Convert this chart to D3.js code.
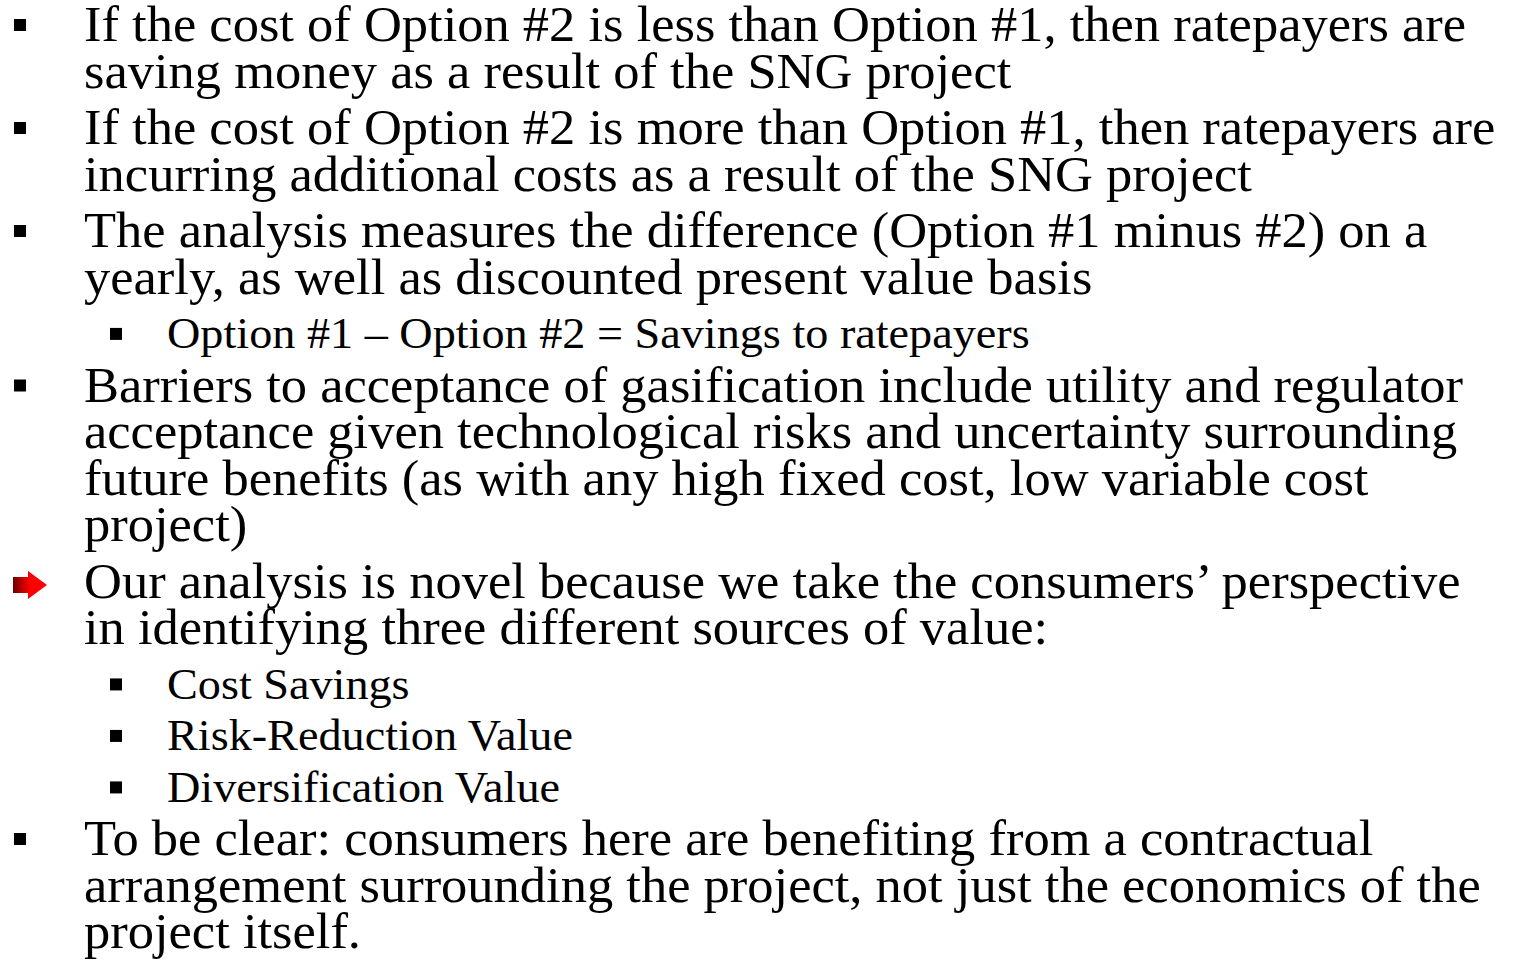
<!DOCTYPE html>
<html>
<head>
<meta charset="utf-8">
<script src="https://cdn.jsdelivr.net/npm/d3@7"></script>
<style>
  html, body { margin: 0; padding: 0; background: #fff; }
  svg { display: block; }
</style>
</head>
<body>
<script>
// slide text, one array entry per paragraph (lines as broken on the slide)
var paraLines = [
  ["If the cost of Option #2 is less than Option #1, then ratepayers are",
   "saving money as a result of the SNG project"],
  ["If the cost of Option #2 is more than Option #1, then ratepayers are",
   "incurring additional costs as a result of the SNG project"],
  ["The analysis measures the difference (Option #1 minus #2) on a",
   "yearly, as well as discounted present value basis"],
  ["Option #1 \u2013 Option #2 = Savings to ratepayers"],
  ["Barriers to acceptance of gasification include utility and regulator",
   "acceptance given technological risks and uncertainty surrounding",
   "future benefits (as with any high fixed cost, low variable cost",
   "project)"],
  ["Our analysis is novel because we take the consumers\u2019 perspective",
   "in identifying three different sources of value:"],
  ["Cost Savings"],
  ["Risk-Reduction Value"],
  ["Diversification Value"],
  ["To be clear: consumers here are benefiting from a contractual",
   "arrangement surrounding the project, not just the economics of the",
   "project itself."]
];
var paraLevel  = [1, 1, 1, 2, 1, 1, 2, 2, 2, 1];
var paraBullet = ["square", "square", "square", "square", "square", "arrow",
                  "square", "square", "square", "square"];

var W = 1518, H = 960;
var stretch = 1.05;   // horizontal fit of the serif face (palatino is wider)

var fontSize = d3.scaleOrdinal().domain([1, 2]).range([50, 44]);
var lineStep = d3.scaleOrdinal().domain([1, 2]).range([46.5, 40.5]);
var paraGap  = d3.scaleOrdinal().domain([1, 2]).range([10, 11]);
var textX    = d3.scaleOrdinal().domain([1, 2]).range([84, 167]);
var bulletX  = d3.scaleOrdinal().domain([1, 2]).range([14, 110]);

// lay out the lines top to bottom
var lines = [], y = 41, prev = null;
paraLines.forEach(function(p, pi){
  var lv = paraLevel[pi];
  p.forEach(function(t, li){
    if (prev !== null) {
      if (li > 0) y += lineStep(lv);
      else y += (lineStep(prev) + lineStep(lv)) / 2 + paraGap(lv);
    }
    lines.push({text: t, level: lv, y: y, first: li === 0, bullet: paraBullet[pi]});
    prev = lv;
  });
});

var svg = d3.select("body").append("svg").attr("width", W).attr("height", H);

var defs = svg.append("defs");
var grad = defs.append("linearGradient").attr("id", "arrowGrad")
  .attr("x1", "0%").attr("x2", "100%").attr("y1", "0%").attr("y2", "0%");
grad.append("stop").attr("offset", "0%").attr("stop-color", "#6e0000");
grad.append("stop").attr("offset", "50%").attr("stop-color", "#ff0000");
grad.append("stop").attr("offset", "100%").attr("stop-color", "#ff0000");

var txt = svg.selectAll("text.line").data(lines).enter().append("text")
  .attr("class", "line")
  .attr("x", function(d){ return textX(d.level); })
  .attr("y", function(d){ return d.y; })
  .attr("font-family", "'Liberation Serif', 'Times New Roman', serif")
  .attr("font-size", function(d){ return fontSize(d.level); })
  .attr("fill", "#000")
  .text(function(d){ return d.text; });

txt.each(function(){
  var w = this.getComputedTextLength();
  d3.select(this).attr("textLength", w * stretch).attr("lengthAdjust", "spacingAndGlyphs");
});

var firsts = lines.filter(function(d){ return d.first; });

svg.selectAll("rect.bullet").data(firsts.filter(function(d){ return d.bullet === "square"; }))
  .enter().append("rect")
  .attr("class", "bullet")
  .attr("x", function(d){ return bulletX(d.level); })
  .attr("y", function(d){ return d.y - 0.32 * fontSize(d.level) - 6; })
  .attr("width", 12).attr("height", 12)
  .attr("fill", "#000");

var arrows = svg.selectAll("g.arrow").data(firsts.filter(function(d){ return d.bullet === "arrow"; }))
  .enter().append("g").attr("class", "arrow")
  .attr("transform", function(d){ return "translate(" + bulletX(d.level) + "," + (d.y - 12.5) + ")"; });
arrows.append("path")
  .attr("d", "M-1,-8 L14,-8 L14,-14 L33,0 L14,14 L14,8 L-1,8 Z")
  .attr("fill", "url(#arrowGrad)");
</script>
</body>
</html>
